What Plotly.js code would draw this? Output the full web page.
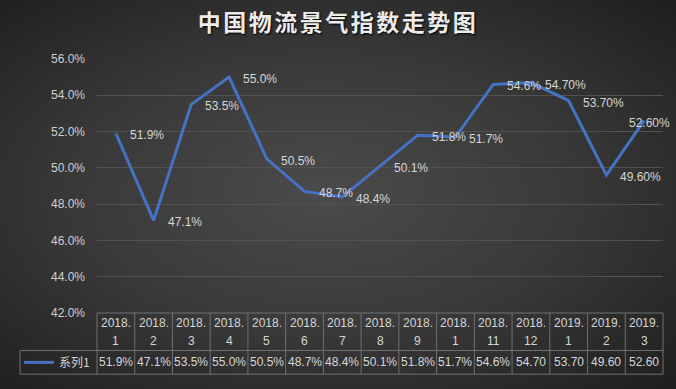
<!DOCTYPE html>
<html>
<head>
<meta charset="utf-8">
<script src="https://cdn.plot.ly/plotly-3.0.1.min.js"></script>
<style>
  html, body { margin: 0; padding: 0; }
  body {
    width: 676px; height: 389px; overflow: hidden;
    background: radial-gradient(ellipse farthest-corner at 48% 50%, #4b4b4b 0%, #393939 50%, #1e1e1e 100%);
  }
  #chart { width: 676px; height: 389px; }
  #chart .gtitle { letter-spacing: 2.5px; }
</style>
</head>
<body>
<div id="chart"></div>
<script>
// ---- data ----
const seriesName = '系列1';
const categoryYears = ['2018.', '2018.', '2018.', '2018.', '2018.', '2018.', '2018.', '2018.', '2018.', '2018.', '2018.', '2018.', '2019.', '2019.', '2019.'];
const categoryMonths = ['1', '2', '3', '4', '5', '6', '7', '8', '9', '1', '11', '12', '1', '2', '3'];
const values = [51.9, 47.1, 53.5, 55.0, 50.5, 48.7, 48.4, 50.1, 51.8, 51.7, 54.6, 54.7, 53.7, 49.6, 52.6];
const pointLabels = ['51.9%', '47.1%', '53.5%', '55.0%', '50.5%', '48.7%', '48.4%', '50.1%', '51.8%', '51.7%', '54.6%', '54.70%', '53.70%', '49.60%', '52.60%'];
const tableLabels = ['51.9%', '47.1%', '53.5%', '55.0%', '50.5%', '48.7%', '48.4%', '50.1%', '51.8%', '51.7%', '54.6%', '54.70', '53.70', '49.60', '52.60'];
const yTickValues = [42, 44, 46, 48, 50, 52, 54, 56];
const yTickLabels = ['42.0%', '44.0%', '46.0%', '48.0%', '50.0%', '52.0%', '54.0%', '56.0%'];
const titleText = '中国物流景气指数走势图';

// ---- layout geometry ----
const W = 676, H = 389;
const M = { l: 97, r: 13, t: 59.3, b: 70 };
const plotH = H - M.t - M.b;
const plotW = W - M.l - M.r;
const n = values.length;
const py = p => (H - M.b - p) / plotH;          // pixel y -> paper y
const px = p => (p - M.l) / plotW;               // pixel x -> paper x

const FONT = 'Liberation Sans, Arial, "Noto Sans CJK SC", sans-serif';
const textColor = '#d6d6d6';
const gridLineColor = '#707070';

const x = values.map((_, i) => i);

const trace = {
  x: x, y: values, type: 'scatter', mode: 'lines', name: seriesName,
  line: { color: '#4472C4', width: 3 },
  hoverinfo: 'skip', showlegend: true
};

const annotations = [];
// data labels
values.forEach((v, i) => {
  const last = i === n - 1;
  annotations.push({
    x: i, y: v, xref: 'x', yref: 'y', text: pointLabels[i], showarrow: false,
    xanchor: last ? 'right' : 'left', xshift: last ? 28 : 12, yshift: -2,
    font: { family: FONT, size: 12, color: textColor }
  });
});
// table text
const rowYear = py(329.5), rowMonth = py(347.5), rowVal = py(369.5);
values.forEach((v, i) => {
  annotations.push({ x: i, y: rowYear, xref: 'x', yref: 'paper', text: categoryYears[i], showarrow: false,
    yanchor: 'middle', font: { family: FONT, size: 12, color: textColor } });
  annotations.push({ x: i, y: rowMonth, xref: 'x', yref: 'paper', text: categoryMonths[i], showarrow: false,
    yanchor: 'middle', font: { family: FONT, size: 12, color: textColor } });
  annotations.push({ x: i, y: rowVal, xref: 'x', yref: 'paper', text: tableLabels[i], showarrow: false,
    yanchor: 'middle', font: { family: FONT, size: 12, color: textColor } });
});

// table grid
const shapes = [];
const rowTop = 0, rowMid = py(357.3), rowBot = py(381.5);
const legendLeft = px(20);
const lineStyle = { color: gridLineColor, width: 1 };
for (let k = 0; k <= n; k++) {
  shapes.push({ type: 'line', xref: 'x domain', yref: 'paper', x0: k / n, x1: k / n, y0: rowTop, y1: rowBot, line: lineStyle });
}
shapes.push({ type: 'line', xref: 'paper', yref: 'paper', x0: legendLeft, x1: 1, y0: rowMid, y1: rowMid, line: lineStyle });
shapes.push({ type: 'line', xref: 'paper', yref: 'paper', x0: legendLeft, x1: 1, y0: rowBot, y1: rowBot, line: lineStyle });
shapes.push({ type: 'line', xref: 'paper', yref: 'paper', x0: legendLeft, x1: legendLeft, y0: rowMid, y1: rowBot, line: lineStyle });
shapes.push({ type: 'line', xref: 'paper', yref: 'paper', x0: 0, x1: 1, y0: rowTop, y1: rowTop, line: lineStyle });

const layout = {
  width: W, height: H,
  margin: M,
  paper_bgcolor: 'rgba(0,0,0,0)',
  plot_bgcolor: 'rgba(0,0,0,0)',
  title: {
    text: titleText,
    x: 0.5, xref: 'container', xanchor: 'center',
    y: 1 - 22.5 / H, yref: 'container', yanchor: 'middle',
    font: { family: '"Noto Sans CJK SC", sans-serif', size: 23, weight: 'bold', color: '#ececec', shadow: '1px 1px 2px #000' }
  },
  xaxis: {
    range: [-0.5, n - 0.5], showticklabels: false, showgrid: false, zeroline: false, showline: false, fixedrange: true
  },
  yaxis: {
    range: [42, 56], tickmode: 'array', tickvals: yTickValues, ticktext: yTickLabels,
    showgrid: true, gridcolor: '#525252', gridwidth: 1, zeroline: false, showline: false,
    ticks: '', ticklabelstandoff: 11,
    tickfont: { family: FONT, size: 12, color: '#cfcfcf' }
  },
  showlegend: true,
  legend: {
    x: px(19), xanchor: 'left', y: py(369.5), yanchor: 'middle',
    bgcolor: 'rgba(0,0,0,0)', borderwidth: 0,
    font: { family: '"Noto Sans CJK SC", sans-serif', size: 12, color: textColor },
    itemclick: false, itemdoubleclick: false
  },
  shapes: shapes,
  annotations: annotations
};

Plotly.newPlot('chart', [trace], layout, { staticPlot: true, displayModeBar: false });
</script>
</body>
</html>
